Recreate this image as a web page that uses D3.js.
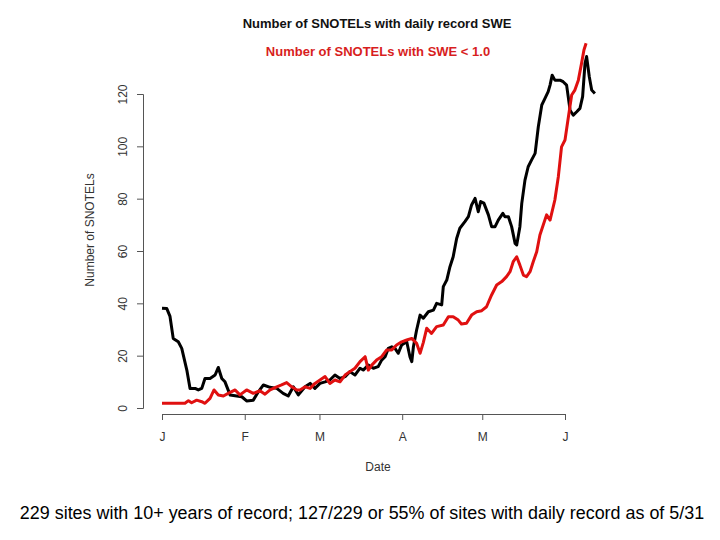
<!DOCTYPE html>
<html><head><meta charset="utf-8">
<script src="https://cdn.jsdelivr.net/npm/d3@7/dist/d3.min.js"></script>
<style>body{margin:0;background:#fff}svg{display:block;font-family:"Liberation Sans",Arial,sans-serif}</style>
</head><body><svg id="c" width="720" height="540"></svg>
<script>
// Day offsets from Jan 1 and values
const recordDays = [0,1.8,3.0,4.2,6.1,7.4,9.3,10.5,12.4,13.6,14.9,16.1,18.0,19.9,21.1,22.4,23.6,25.5,28.0,29.9,31.7,34.2,36.1,38.0,40.5,43.0,45.4,47.3,49.2,51.1,53.6,55.5,57.3,59.2,61.1,62.9,64.8,66.7,68.6,70.4,72.3,74.2,75.4,77.3,79.2,81.0,82.3,83.6,84.8,86.1,87.3,88.5,89.8,91.7,92.9,93.6,94.2,95.4,96.7,97.9,99.8,101.7,102.9,104.8,105.4,106.7,107.9,109.1,110.4,111.6,113.5,114.8,116.0,117.3,118.5,119.4,120.6,122.3,123.5,124.8,126.0,127.7,128.5,129.8,131.0,132.3,132.9,134.1,134.8,136.0,137.2,138.5,139.8,141.0,142.3,143.5,144.7,145.4,146.2,147.2,149.1,150.3,151.6,152.2,152.9,154.1,155.4,156.6,157.6,158.5,159.1,160.1,161.0,162.2];
const recordVals = [38.1,38,35,26.6,25.3,22.8,14.5,7.5,7.5,6.9,7.5,11.3,11.3,12.6,15.5,11.3,10,5,4.6,4.3,2.7,3,6.2,8.8,7.9,7.5,5.6,4.6,8.1,5,8.1,9.4,7.5,9.4,10,10.7,12.6,11.3,12,13.9,12.6,15.2,14.5,16.4,15.2,15.8,18.3,19.6,22.8,23.4,22.8,20.9,24.1,25.3,19.6,17.7,23.4,29.8,35.5,34.3,36.8,37.4,40,39.4,46.4,48.9,54,57.8,64.8,68.7,71.2,73.1,77.6,80.1,75,78.9,78.3,73.8,69.3,69.3,71.8,74.4,73.1,73.1,69.3,62.9,62.3,69.3,78.2,87.1,92.2,94.8,97.3,107.5,115.8,118.3,120.9,123.4,127.2,125.3,125.3,124.7,123.4,119,113.8,111.9,113.2,114.5,119,131.7,134.3,126.6,121.5,120.2];
const lowDays = [0,8.6,9.9,11.1,13.0,14.9,16.1,18.0,19.5,21.1,23.0,24.8,27.4,29.2,31.7,34.2,36.7,38.6,40.5,43.0,44.8,46.7,48.6,50.5,51.7,53.6,55.5,57.3,59.2,61.1,62.9,64.8,66.7,68.6,70.4,72.3,74.2,76.1,77.3,78.6,80.4,82.3,84.2,86.1,87.9,89.8,91.7,93.6,95.4,96.7,97.9,99.2,101.0,102.9,105.4,107.3,109.1,111.0,112.2,114.1,116.0,117.9,119.8,121.6,123.5,125.4,127.3,129.1,130.4,131.6,132.9,134.1,135.4,136.6,137.9,139.1,140.4,141.6,144.1,145.4,147.2,148.5,149.7,151.0,152.2,153.5,154.7,156.0,157.2,158.1,158.9];
const lowVals = [1.8,1.8,2.8,2,3,2.4,1.8,3.7,6.9,5,4.6,5.6,6.9,5,6.9,5.6,6.6,5.3,6.9,8.1,8.8,9.7,8.1,6.9,6.9,8.1,7.5,9.4,10.7,12,9.4,10.7,10,12.6,13.9,15.2,17.7,19.6,14.5,16.4,18.3,19.6,22.2,22.2,24.1,25.3,26,26.6,24.7,20.9,25,30.5,28.5,31.1,31.7,34.9,34.9,33.6,32.1,32.4,35.5,36.8,37.2,38.7,43.2,47,48.3,50.2,52.1,55.9,57.8,54.6,50.8,50.2,52.1,55.9,59.7,66.1,73.8,71.8,79.5,88.4,99.8,102.4,110.7,119.6,121.5,125.3,131.7,136.8,139.4];
const monthTicks = ["2011-01-01","2011-02-01","2011-03-01","2011-04-01","2011-05-01","2011-06-01"];
const monthLabels = ["J","F","M","A","M","J"];
const yTicks = [0,20,40,60,80,100,120];
const title1 = "Number of SNOTELs with daily record SWE";
const title2 = "Number of SNOTELs with SWE < 1.0";
const yTitle = "Number of SNOTELs";
const xTitle = "Date";
const footer = "229 sites with 10+ years of record; 127/229 or 55% of sites with daily record as of 5/31";

const svg = d3.select("#c");
const t0 = new Date(Date.UTC(2011,0,1));
const dayToDate = d => new Date(t0.getTime() + d*86400000);
const x = d3.scaleUtc().domain([t0, new Date(Date.UTC(2011,5,1))]).range([162,565]);
const y = d3.scaleLinear().domain([0,120]).range([408,94]);

// y axis
const ya = svg.append("g").attr("transform","translate(143,0)")
  .call(d3.axisLeft(y).tickValues(yTicks).tickSize(6).tickPadding(4));
ya.select(".domain").attr("stroke","#555");
ya.selectAll(".tick line").attr("stroke","#555");
ya.selectAll(".tick text").attr("font-size",12).attr("fill","#333")
  .attr("font-family","Liberation Sans, Arial, sans-serif")
  .attr("transform", d => `rotate(-90)`).attr("x", null).attr("dy",null)
  .attr("text-anchor","middle")
  .each(function(d){ d3.select(this).attr("x",0).attr("y",-16); });

// x axis
const xa = svg.append("g").attr("transform","translate(0,414)")
  .call(d3.axisBottom(x).tickValues(monthTicks.map(s=>new Date(s+"T00:00:00Z"))).tickSize(6).tickPadding(12)
    .tickFormat((d,i)=>monthLabels[i]));
xa.select(".domain").attr("stroke","#555");
xa.selectAll(".tick line").attr("stroke","#555");
xa.selectAll(".tick text").attr("font-size",12).attr("fill","#333")
  .attr("font-family","Liberation Sans, Arial, sans-serif");

// lines
const lineFn = d3.line().x(d=>x(dayToDate(d[0]))).y(d=>y(d[1]));
svg.append("path").datum(recordDays.map((d,i)=>[d,recordVals[i]]))
  .attr("d",lineFn).attr("fill","none").attr("stroke","#000").attr("stroke-width",3).attr("stroke-linejoin","round");
svg.append("path").datum(lowDays.map((d,i)=>[d,lowVals[i]]))
  .attr("d",lineFn).attr("fill","none").attr("stroke","#e01010").attr("stroke-width",3).attr("stroke-linejoin","round");

// titles
svg.append("text").attr("x",377).attr("y",28).attr("text-anchor","middle")
  .attr("font-size",13).attr("font-weight","bold").attr("fill","#111").text(title1);
svg.append("text").attr("x",378).attr("y",56).attr("text-anchor","middle")
  .attr("font-size",13).attr("font-weight","bold").attr("fill","#d81e1e").text(title2);
svg.append("text").attr("transform","translate(94,230) rotate(-90)").attr("text-anchor","middle")
  .attr("font-size",12).attr("fill","#333").text(yTitle);
svg.append("text").attr("x",378).attr("y",471).attr("text-anchor","middle")
  .attr("font-size",12).attr("fill","#333").text(xTitle);
const ft = svg.append("text").attr("x",362).attr("y",519).attr("text-anchor","middle")
  .attr("font-size",17).attr("fill","#000").text(footer);
const w = ft.node().getComputedTextLength();
ft.attr("font-size", 17*685/w);
</script></body></html>
